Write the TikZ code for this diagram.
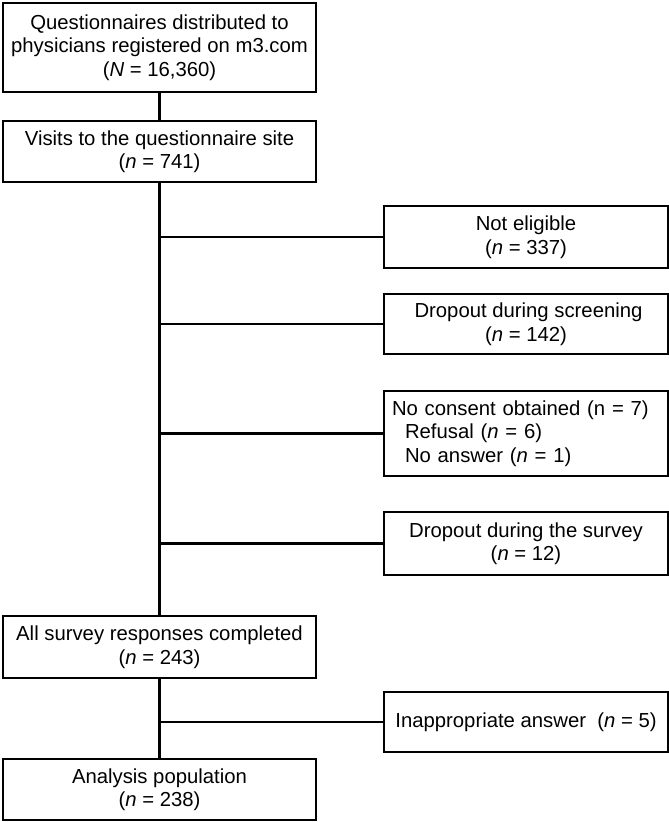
\documentclass[tikz,border=0pt]{standalone}
\usepackage{fontspec}
\setmainfont{Liberation Sans}
\begin{document}
\begin{tikzpicture}[x=1pt,y=-1pt,
  box/.style={draw, line width=2.3pt, rectangle, inner sep=0pt, align=center,
    font=\fontsize{20.3}{23.5}\selectfont},
  leftbox/.style={box, minimum width=313pt},
  rightbox/.style={box, minimum width=284pt},
  conn/.style={line width=2.3pt}]
\useasboundingbox (0,0) rectangle (669,822);
\node[leftbox, minimum height=89pt] (q) at (159.5,47.5)
  {Questionnaires distributed to\\physicians registered on m3.com\\(\textit{N} = 16,360)};
\node[leftbox, minimum height=61pt] (v) at (159.5,151.5)
  {Visits to the questionnaire site\\(\textit{n} = 741)};
\node[rightbox, minimum height=62pt] (ne) at (526,237)
  {Not eligible\\(\textit{n} = 337)};
\node[rightbox, minimum height=60pt] (ds) at (526,324)
  {\hspace*{5pt}Dropout during screening\\(\textit{n} = 142)};
\node[rightbox, minimum height=85pt, text width=268pt, inner xsep=8pt, align=left] (nc) at (526,433.5)
  {No consent obtained (n = 7)\\\hspace*{13pt}Refusal (\textit{n} = 6)\\\hspace*{13pt}No answer (\textit{n} = 1)};
\node[rightbox, minimum height=63pt] (dsu) at (526,543.5)
  {Dropout during the survey\\(\textit{n} = 12)};
\node[leftbox, minimum height=62pt] (all) at (159.5,647)
  {All survey responses completed\\(\textit{n} = 243)};
\node[rightbox, minimum height=60pt] (ina) at (526,722)
  {Inappropriate answer\ \ (\textit{n} = 5)};
\node[leftbox, minimum height=61pt] (ana) at (159.5,789.5)
  {Analysis population\\(\textit{n} = 238)};
\draw[conn] (q.south) -- (v.north);
\draw[conn] (v.south) -- (all.north);
\draw[conn] (v.south |- ne.west) -- (ne.west);
\draw[conn] (v.south |- ds.west) -- (ds.west);
\draw[conn] (v.south |- nc.west) -- (nc.west);
\draw[conn] (v.south |- dsu.west) -- (dsu.west);
\draw[conn] (all.south) -- (ana.north);
\draw[conn] (all.south |- ina.west) -- (ina.west);
\end{tikzpicture}
\end{document}
